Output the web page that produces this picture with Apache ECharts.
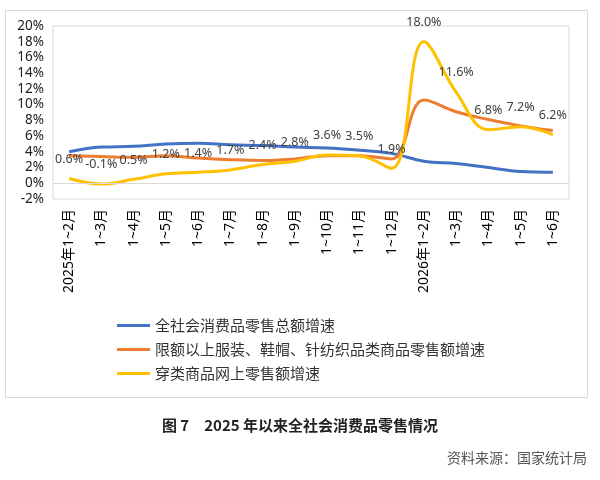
<!DOCTYPE html>
<html><head><meta charset="utf-8">
<script src="https://cdn.jsdelivr.net/npm/echarts@6/dist/echarts.min.js"></script>
<style>html,body{margin:0;padding:0;background:#fff}#c{width:600px;height:480px}</style>
</head><body><div id="c"></div>
<script>
var categories = ['2025年1~2月','1~3月','1~4月','1~5月','1~6月','1~7月','1~8月','1~9月','1~10月','1~11月','1~12月','2026年1~2月','1~3月','1~4月','1~5月','1~6月'];
var seriesNames = ['全社会消费品零售总额增速','限额以上服装、鞋帽、针纺织品类商品零售额增速','穿类商品网上零售额增速'];
var totalRetail = [4.0, 4.6, 4.7, 5.0, 5.1, 4.9, 4.8, 4.6, 4.5, 4.2, 3.8, 2.8, 2.5, 2.0, 1.5, 1.4];
var apparelAbove = [3.5, 3.4, 3.3, 3.5, 3.2, 3.0, 2.9, 3.1, 3.5, 3.5, 3.1, 10.6, 9.1, 8.1, 7.3, 6.7];
var apparelOnline = [0.6, -0.1, 0.5, 1.2, 1.4, 1.7, 2.4, 2.8, 3.6, 3.5, 1.9, 18.0, 11.6, 6.8, 7.2, 6.2];
var yTicks = {min: -2, max: 20, interval: 2};

var FONT = '"Noto Sans", "Noto Sans CJK SC", sans-serif';
var CJK = '"Noto Sans CJK SC", sans-serif';
var chart = echarts.init(document.getElementById('c'));
chart.setOption({
  backgroundColor: '#fff',
  animation: false,
  textStyle: {fontFamily: FONT},
  graphic: [{
    type: 'rect', left: 5, top: 10, z: -10,
    shape: {width: 582, height: 387},
    style: {fill: '#fff', stroke: '#d9d9d9', lineWidth: 1}
  }],
  title: [{
    text: '图 7　2025 年以来全社会消费品零售情况',
    left: 'center', top: 413,
    textStyle: {fontSize: 15, fontWeight: 'bold', color: '#222', fontFamily: CJK}
  }, {
    text: '资料来源：国家统计局',
    right: 8, top: 446,
    textStyle: {fontSize: 14, fontWeight: 'normal', color: '#555', fontFamily: CJK}
  }],
  legend: {
    orient: 'vertical', left: 112, top: 313,
    icon: 'rect', itemWidth: 33, itemHeight: 3, itemGap: 9,
    textStyle: {fontSize: 15, color: '#333', fontFamily: CJK},
    data: seriesNames
  },
  grid: {left: 53, right: 31, top: 26, bottom: 281, show: true, borderColor: '#d9d9d9', borderWidth: 1},
  xAxis: {
    type: 'category', data: categories, boundaryGap: true,
    axisLine: {show: false}, axisTick: {show: false},
    axisLabel: {rotate: 90, fontSize: 14, color: '#000', margin: 10, interval: 0, fontFamily: FONT}
  },
  yAxis: {
    type: 'value', min: yTicks.min, max: yTicks.max, interval: yTicks.interval,
    axisLine: {show: false}, axisTick: {show: false}, splitLine: {show: false},
    axisLabel: {formatter: '{value}%', fontSize: 13.5, color: '#222', margin: 9, fontFamily: FONT}
  },
  series: [{
    name: seriesNames[0], type: 'line', data: totalRetail, smooth: 0.4,
    showSymbol: false, symbol: 'none', lineStyle: {width: 3, color: '#4472C4'}, itemStyle: {color: '#4472C4'},
    markLine: {silent: true, symbol: 'none', label: {show: false},
      lineStyle: {color: '#d9d9d9', width: 1, type: 'solid'}, data: [{yAxis: 0}]}
  }, {
    name: seriesNames[1], type: 'line', data: apparelAbove, smooth: 0.4,
    showSymbol: false, symbol: 'none', lineStyle: {width: 3, color: '#ED7D31'}, itemStyle: {color: '#ED7D31'}
  }, {
    name: seriesNames[2], type: 'line', data: apparelOnline, smooth: 0.4,
    symbol: 'circle', symbolSize: 0.1, showSymbol: true,
    lineStyle: {width: 3, color: '#FFC000'}, itemStyle: {color: '#FFC000'},
    label: {show: true, position: 'top', distance: 13, fontSize: 12.5, color: '#404040',
      fontFamily: FONT, formatter: function (p) { return p.value.toFixed(1) + '%'; }},
    z: 3
  }]
});
</script></body></html>
